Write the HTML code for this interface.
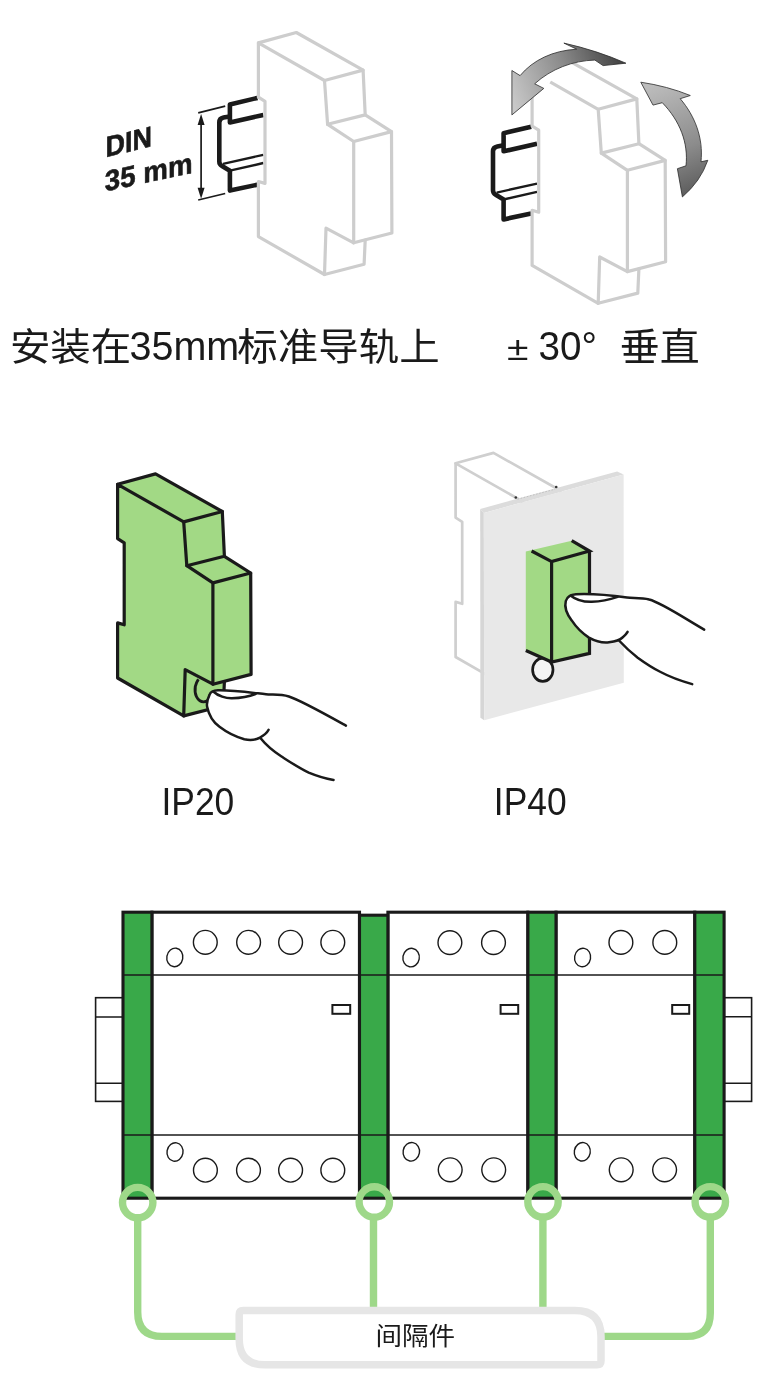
<!DOCTYPE html>
<html lang="zh">
<head>
<meta charset="utf-8">
<title>安装</title>
<style>
html,body{margin:0;padding:0;background:#fff;}
body{width:767px;height:1397px;overflow:hidden;}
svg{display:block;will-change:transform;}
text{font-family:"Liberation Sans","Noto Sans CJK SC",sans-serif;fill:#1a1a1a;}
.cjk{font-family:"Noto Sans CJK SC","Liberation Sans",sans-serif;}
</style>
</head>
<body>
<svg width="767" height="1397" viewBox="0 0 767 1397">
<defs>
  <!-- module outline in "module 1" coordinates -->
  <g id="modlines" fill="none" stroke-linejoin="round" stroke-linecap="round">
    <path d="M258.4,42.9 L324.5,80.5 L327.6,124.3 L353.7,141.5 L353.7,242.8 L326,228.2 L324.5,274.5 L258.4,236.6 L258.4,181.5 L265,183.4 L265,101.4 L258.4,97.2 Z"/>
    <path d="M258.4,42.9 L296.3,32.5 L363.1,70.1 L324.5,80.5"/>
    <path d="M363.1,70.1 L365.2,114.9 L327.6,124.3"/>
    <path d="M365.2,114.9 L391.5,131.6 L353.7,141.5"/>
    <path d="M391.5,131.6 L391.9,233 L353.7,242.8"/>
    <path d="M324.5,274.5 L364.1,264.3 L365.2,240.1"/>
  </g>
  <path id="modsil" d="M258.4,42.9 L296.3,32.5 L363.1,70.1 L365.2,114.9 L391.5,131.6 L391.9,233 L365.2,240.1 L364.1,264.3 L324.5,274.5 L258.4,236.6 L258.4,181.5 L265,183.4 L265,101.4 L258.4,97.2 Z"/>
  <!-- DIN rail in module 1 coordinates -->
  <g id="rail" fill="none" stroke="#1a1a1a" stroke-linejoin="round" stroke-linecap="butt">
    <path stroke-width="4.6" d="M257.5,97.9 L229.9,104.4 L229.9,122.5 L263.3,114.9"/>
    <path stroke-width="4.6" d="M229.9,116.5 L223.5,117.6 Q219.3,118.4 219.3,122.5 L219.3,161.5 Q219.3,164.5 222,166 L229.9,170.7 L229.9,190.6 L257.5,184.7"/>
    <path stroke-width="2.4" d="M223,163.8 L263.3,154.8"/>
    <path stroke-width="2.4" d="M229.9,170.7 L263.3,163"/>
  </g>
  <linearGradient id="ga1" gradientUnits="userSpaceOnUse" x1="512" y1="100" x2="626" y2="55">
    <stop offset="0" stop-color="#c8c8c8"/>
    <stop offset="0.5" stop-color="#8a8a8a"/>
    <stop offset="1" stop-color="#3a3a3a"/>
  </linearGradient>
  <linearGradient id="ga2" gradientUnits="userSpaceOnUse" x1="650" y1="85" x2="695" y2="195">
    <stop offset="0" stop-color="#bdbdbd"/>
    <stop offset="0.6" stop-color="#8c8c8c"/>
    <stop offset="1" stop-color="#5a5a5a"/>
  </linearGradient>
</defs>

<rect width="767" height="1397" fill="#ffffff"/>

<!-- ============ FIG 1 : DIN rail ============ -->
<g id="fig1">
  <use href="#rail"/>
  <use href="#modsil" fill="#fff"/>
  <use href="#modlines" stroke="#cdcdcd" stroke-width="3.2"/>
  <!-- dimension -->
  <g stroke="#1a1a1a" stroke-width="1.7" fill="none">
    <path d="M198.2,112.9 L225.2,106.1"/>
    <path d="M198.2,200 L225.2,193.5"/>
    <path d="M201.1,121 L201.1,192"/>
  </g>
  <path d="M201.1,114 L204.6,125 L197.6,125 Z" fill="#1a1a1a"/>
  <path d="M201.1,198.8 L204.6,187.8 L197.6,187.8 Z" fill="#1a1a1a"/>
  <g font-weight="700" font-size="29" stroke="#1a1a1a" stroke-width="0.6">
    <text transform="translate(105.5,157.3) skewY(-13.5) scale(0.93,1)">DIN</text>
    <text transform="translate(104.8,191.5) skewY(-12) scale(0.955,1)">35 mm</text>
  </g>
</g>

<!-- ============ FIG 2 : rotation ============ -->
<g id="fig2">
  <g transform="translate(273.7,28.8)">
    <use href="#rail"/>
    <use href="#modsil" fill="#fff"/>
    <use href="#modlines" stroke="#cdcdcd" stroke-width="3.2"/>
  </g>
  <path d="M530,70 L550.5,81.7" stroke="#fff" stroke-width="5" fill="none"/>
  <path id="arrow1" fill="url(#ga1)" stroke="#2a2a2a" stroke-width="0.8" stroke-linejoin="miter"
     d="M511.9,114.9 L511.9,70.5 L520.1,75.6 C533,60 553,50.5 576.7,49.2 L563.9,43.1 Q597,50.5 625.9,63.2 L603.1,65.6 L594.9,60.1 C573,60.5 551,69 534.7,83.8 L543.8,88.4 Z"/>
  <path id="arrow2" fill="url(#ga2)" stroke="#2a2a2a" stroke-width="0.8" stroke-linejoin="miter"
     d="M640.8,82.2 Q667.5,86.2 690.3,95.5 L680.2,98.7 C695,116 703.5,138 701,161.8 L707.8,160.3 Q700.5,181.5 682.4,196.9 L677.4,168.7 L686,165.8 C688.5,143 680,121 662.3,102.7 L653,105.1 Z"/>
</g>

<!-- captions -->
<text class="cjk" transform="translate(9.9,360) scale(1.065,1)" font-size="38">安装在</text>
<text transform="translate(129.5,360) scale(0.963,1)" font-size="41">35mm</text>
<text class="cjk" transform="translate(237.3,360) scale(1.065,1)" font-size="38">标准导轨上</text>
<text transform="translate(507,359.7) scale(1.15,1)" font-size="34">±</text>
<text transform="translate(538.6,359.7) scale(0.965,1)" font-size="40">30°</text>
<text class="cjk" transform="translate(619.8,360.3) scale(1.051,1)" font-size="38">垂直</text>

<!-- ============ FIG 3 : IP20 ============ -->
<g id="fig3">
  <g transform="translate(-140.8,441.4)">
    <use href="#modsil" fill="#a2d985"/>
    <use href="#modlines" stroke="#1a1a1a" stroke-width="3.2"/>
  </g>
  <path d="M198.4,679.2 C196.6,682 195.7,684.3 195.3,686.5 C194.8,690 195,693.5 196.4,696.5 C197.5,698.8 198.7,700 199.9,700.8 C202.5,702.5 205.5,702 208.5,700.2" fill="none" stroke="#1a1a1a" stroke-width="2.9"/>
  <!-- finger -->
  <path fill="#fff" d="M345.9,725.6 C325,714 300,700 288.9,696.5 C280,693.5 272,695 266,694.3 C250,692.5 232,690 218,690.3 C213,690.5 210.5,692 209.6,694.6 C207,700 206.5,704 207.2,707 C209,716 213,722 219.5,726.8 C227,732.5 236,737 244.3,739.2 C250,740.5 255,740 259.2,738 C266,745 273,751 281.5,756.5 C290,762 299,768 308.7,772.6 C317,776 325,778.5 333.5,780 Z"/>
  <g fill="none" stroke="#1a1a1a" stroke-width="2.5" stroke-linecap="round">
    <path d="M345.9,725.6 C325,714 300,700 288.9,696.5 C280,693.5 272,695 266,694.3 C250,692.5 232,690 218,690.3 C213,690.5 210.5,692 209.6,694.6 C207,700 206.5,704 207.2,707 C209,716 213,722 219.5,726.8 C227,732.5 236,737 244.3,739.2 C250,740.5 255,740 259.2,738 C264,735.5 267,733 268.6,729.8"/>
    <path d="M260.4,738 C266,745 273,751 281.5,756.5 C290,762 299,768 308.7,772.6 C317,776 325,778.5 333.5,780"/>
    <path d="M213.3,691.5 C218,696 226,698.5 232,698.3 C241,698 249,696.5 255.5,694"/>
  </g>
  <text transform="translate(161.5,815.4) scale(0.919,1)" font-size="38.5">IP20</text>
</g>

<!-- ============ FIG 4 : IP40 ============ -->
<g id="fig4">
  <g transform="translate(197.2,420.4)">
    <use href="#modsil" fill="#fff"/>
    <use href="#modlines" stroke="#cfcfcf" stroke-width="2.7"/>
  </g>
  <!-- panel -->
  <path d="M480.2,509 L617.1,471.4 L623.6,474.6 L483.8,513 Z" fill="#dcdcdc"/>
  <path d="M480.2,509 L483.8,513 L484.2,720.2 L480.4,717.8 Z" fill="#d6d6d6"/>
  <path d="M483.8,513 L623.6,474.6 L623.8,682.8 L484.2,720.2 Z" fill="#e8e8e8"/>
  <circle cx="515.8" cy="497.5" r="1.3" fill="#333"/>
  <circle cx="556.2" cy="487" r="1.3" fill="#333"/>
  <path d="M517.5,499.2 L555,489.2" stroke="#b5b5b5" stroke-width="0.7" stroke-dasharray="1.6 1.6" fill="none"/>
  <!-- ring behind green -->
  <ellipse cx="542.8" cy="669.8" rx="10.2" ry="11.6" fill="#f4f4f4" stroke="#1a1a1a" stroke-width="2.7"/>
  <!-- green block -->
  <path d="M525.8,551.6 L571.7,540.7 L589.5,551 L589.5,653.4 L551.6,662 L525.8,650.5 Z" fill="#a2d985"/>
  <g fill="none" stroke="#1a1a1a" stroke-width="3.2" stroke-linecap="butt" stroke-linejoin="miter">
    <path d="M531.6,551 L551.6,561.6 L589.5,551 L571.7,540.7"/>
    <path d="M551.6,561.6 L551.6,662"/>
    <path d="M589.5,551 L589.5,653.4 L551.6,662 L525.8,650.5"/>
  </g>
  <!-- finger -->
  <path fill="#fff" d="M704.2,629.6 C684,618 662,603 649.2,599.5 C641,597 633,598.5 627,597.6 C612,595.5 592,593.5 576,594.3 C570.5,594.6 567,597 565.8,601 C564.5,606 566,613 571.7,620.4 C576,627 582,633 588.9,637.6 C596,641.5 603,643 609,642.3 C613,642 617,641 619,640.5 C625,647 631,652.5 637.7,657.7 C645,663 652.5,668 660.6,672 C670,677 681,681 692.2,684.1 Z"/>
  <g fill="none" stroke="#1a1a1a" stroke-width="2.5" stroke-linecap="round">
    <path d="M704.2,629.6 C684,618 662,603 649.2,599.5 C641,597 633,598.5 627,597.6 C612,595.5 592,593.5 576,594.3 C570.5,594.6 567,597 565.8,601 C564.5,606 566,613 571.7,620.4 C576,627 582,633 588.9,637.6 C596,641.5 603,643 609,642.3 C615,641.5 620,640 622.5,637.5 C625,635.5 626.5,634 627.6,631.9"/>
    <path d="M619,640.5 C625,647 631,652.5 637.7,657.7 C645,663 652.5,668 660.6,672 C670,677 681,681 692.2,684.1"/>
    <path d="M570.5,595.5 C576,600 584,602 591.8,601.8 C601,601.5 610,599.5 617.6,596.9"/>
  </g>
  <text transform="translate(493.8,815.4) scale(0.919,1)" font-size="38.5">IP40</text>
</g>

<!-- ============ FIG 5 : spacers ============ -->
<g id="fig5">
  <!-- rails -->
  <g fill="#fff" stroke="#1a1a1a" stroke-width="1.6">
    <rect x="95.6" y="997.7" width="27.4" height="103.7"/>
    <path d="M95.6,1017 H123 M95.6,1083.3 H123"/>
    <rect x="724.1" y="997.7" width="27.5" height="103.7"/>
    <path d="M724.1,1016.8 H751.6 M724.1,1083.3 H751.6"/>
  </g>
  <!-- module bodies -->
  <g fill="#fff" stroke="#1a1a1a" stroke-width="3.1" stroke-linejoin="miter">
    <rect x="151.9" y="912.2" width="207.6" height="286"/>
    <rect x="387.9" y="912.2" width="140" height="286"/>
    <rect x="556" y="912.2" width="138.8" height="286"/>
  </g>
  <!-- spacers -->
  <g fill="#39a949" stroke="#1a1a1a" stroke-width="3.1" stroke-linejoin="miter">
    <rect x="123" y="912.2" width="28.9" height="286"/>
    <rect x="359.5" y="915.2" width="28.4" height="283"/>
    <rect x="527.9" y="912.2" width="28.1" height="286"/>
    <rect x="694.8" y="912.2" width="29.3" height="286"/>
  </g>
  <!-- dividers -->
  <g stroke="#1a1a1a" stroke-width="1.6" fill="none">
    <path d="M123,975 H724.1"/>
    <path d="M123,1135 H724.1"/>
  </g>
  <!-- holes -->
  <g fill="#fff" stroke="#1a1a1a" stroke-width="1.4">
    <circle cx="205.3" cy="942.3" r="11.9"/><circle cx="248.6" cy="942.3" r="11.9"/><circle cx="290.6" cy="942.3" r="11.9"/><circle cx="332.8" cy="942.3" r="11.9"/>
    <ellipse cx="174.8" cy="957.4" rx="8" ry="9.3" transform="rotate(10 174.8 957.4)"/>
    <circle cx="205.4" cy="1170.2" r="11.9"/><circle cx="248.5" cy="1170.2" r="11.9"/><circle cx="290.6" cy="1170.2" r="11.9"/><circle cx="332.8" cy="1170.2" r="11.9"/>
    <ellipse cx="175" cy="1152" rx="8" ry="9.3" transform="rotate(10 175 1152)"/>

    <circle cx="449.9" cy="942.6" r="11.9"/><circle cx="493.5" cy="942.6" r="11.9"/>
    <ellipse cx="411.1" cy="957.6" rx="8.2" ry="9.3" transform="rotate(10 411.1 957.6)"/>
    <circle cx="450.2" cy="1169.8" r="11.9"/><circle cx="493.7" cy="1169.8" r="11.9"/>
    <ellipse cx="411.3" cy="1151.8" rx="8.2" ry="9.3" transform="rotate(10 411.3 1151.8)"/>

    <circle cx="620.9" cy="942.4" r="11.9"/><circle cx="664.8" cy="942.4" r="11.9"/>
    <ellipse cx="582.6" cy="957.5" rx="8" ry="9.3" transform="rotate(10 582.6 957.5)"/>
    <circle cx="621.2" cy="1169.8" r="11.9"/><circle cx="664.6" cy="1169.8" r="11.9"/>
    <ellipse cx="582.3" cy="1151.8" rx="8" ry="9.3" transform="rotate(10 582.3 1151.8)"/>
  </g>
  <g fill="#fff" stroke="#1a1a1a" stroke-width="2">
    <rect x="332.4" y="1005" width="17.8" height="8.8"/>
    <rect x="500.6" y="1005" width="17.6" height="8.8"/>
    <rect x="672.2" y="1005" width="17" height="8.8"/>
  </g>
  <!-- connectors -->
  <g fill="none" stroke="#9ed889" stroke-width="7.4">
    <path d="M137.7,1217 V1312 Q137.7,1336.4 162,1336.4 H236"/>
    <path d="M373.5,1217 V1308"/>
    <path d="M542.9,1217 V1308"/>
    <path d="M710.3,1217 V1313 Q710.3,1336.4 687,1336.4 H604"/>
    <circle cx="137.7" cy="1202.6" r="15.2"/>
    <circle cx="374.3" cy="1202" r="15.2"/>
    <circle cx="543" cy="1201.8" r="15.2"/>
    <circle cx="710.3" cy="1201.8" r="15.2"/>
  </g>
  <!-- label -->
  <path d="M243.2,1310.6 H575 Q601,1310.6 601,1336.6 V1360.8 Q601,1364.8 597,1364.8 H265 Q239.2,1364.8 239.2,1339 V1314.6 Q239.2,1310.6 243.2,1310.6 Z" fill="#fff" stroke="#e6e6e6" stroke-width="7.5"/>
  <text class="cjk" transform="translate(375.4,1345.4) scale(1.05,1)" font-size="25.3">间隔件</text>
</g>
</svg>
</body>
</html>
